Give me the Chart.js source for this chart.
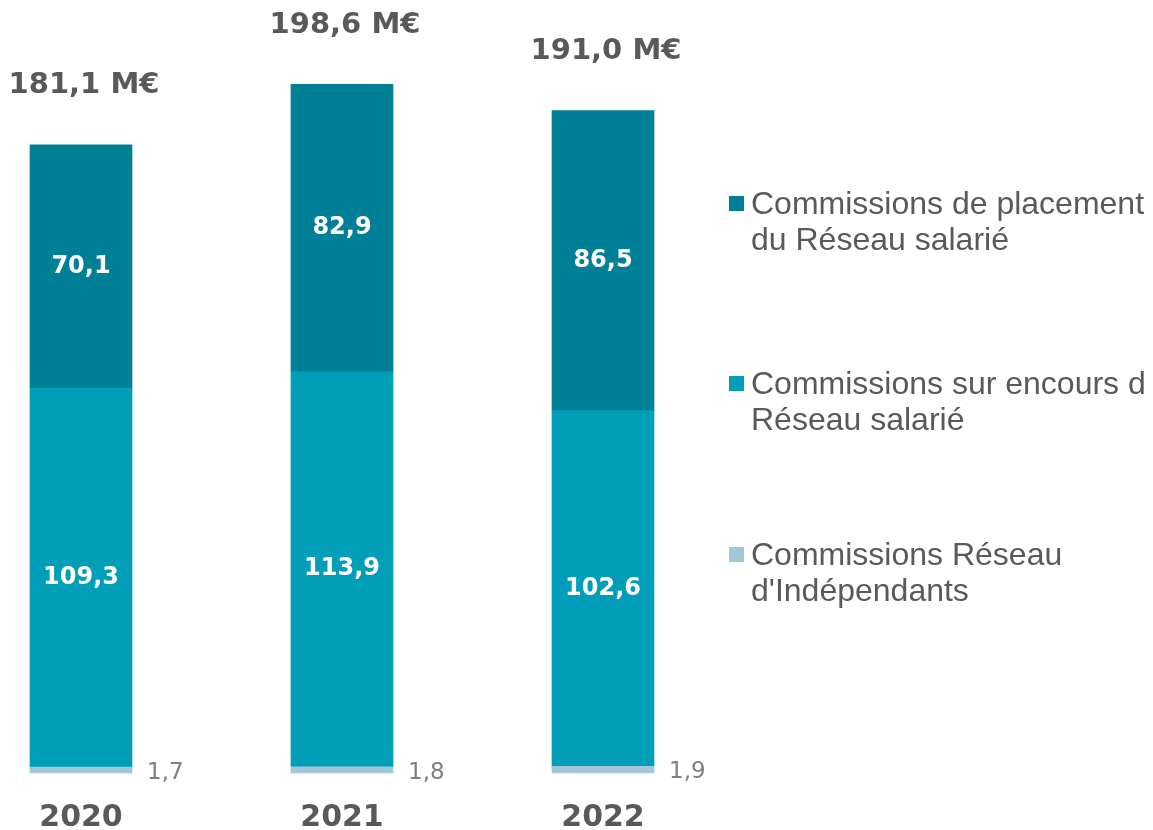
<!DOCTYPE html>
<html>
<head>
<meta charset="utf-8">
<script src="https://cdn.jsdelivr.net/npm/chart.js@4"></script>
<style>
html,body{margin:0;padding:0;background:#fff;}
#wrap{width:1153px;height:830px;position:relative;}
</style>
</head>
<body>
<div id="wrap"><canvas id="c" width="1153" height="830"></canvas></div>
<script>
const categories = ["2020", "2021", "2022"];
const independants = [1.7, 1.8, 1.9];
const encours = [109.3, 113.9, 102.6];
const placement = [70.1, 82.9, 86.5];
const totals = ["181,1 M€", "198,6 M€", "191,0 M€"];
const seriesNames = [
  ["Commissions Réseau", "d'Indépendants"],
  ["Commissions sur encours du", "Réseau salarié"],
  ["Commissions de placement", "du Réseau salarié"]
];
const colors = ["#A0C8D6", "#009EB8", "#008096"];

const fmt = v => v.toFixed(1).replace('.', ',');

const labelPlugin = {
  id: 'labels',
  afterDatasetsDraw(chart) {
    const ctx = chart.ctx;
    const xs = chart.scales.x, ys = chart.scales.y;
    ctx.save();
    chart.data.datasets.forEach((ds, di) => {
      const meta = chart.getDatasetMeta(di);
      meta.data.forEach((bar, i) => {
        const v = ds.data[i];
        if (di === 0) {
          ctx.font = '23px "DejaVu Sans"';
          ctx.fillStyle = '#7F7F7F';
          ctx.textAlign = 'left';
          ctx.textBaseline = 'middle';
          ctx.fillText(fmt(v), bar.x + bar.width / 2 + 15, bar.y + 6);
        } else {
          ctx.font = 'bold 24px "DejaVu Sans"';
          ctx.fillStyle = '#FFFFFF';
          ctx.textAlign = 'center';
          ctx.textBaseline = 'middle';
          ctx.fillText(fmt(v), bar.x, (bar.y + bar.base) / 2);
        }
      });
    });
    categories.forEach((cat, i) => {
      const x = xs.getPixelForValue(i);
      const sum = independants[i] + encours[i] + placement[i];
      const top = ys.getPixelForValue(sum);
      ctx.font = 'bold 29px "DejaVu Sans"';
      ctx.fillStyle = '#595959';
      ctx.textAlign = 'center';
      ctx.textBaseline = 'middle';
      ctx.fillText(totals[i], x + 3, top - 59);
      ctx.font = 'bold 30px "DejaVu Sans"';
      ctx.fillText(cat, x, ys.getPixelForValue(0) + 45);
    });
    ctx.save();
    ctx.beginPath();
    ctx.rect(700, 0, 446, 830);
    ctx.clip();
    const legendY = [205, 385, 556];
    [2, 1, 0].forEach((di, k) => {
      const y = legendY[k];
      ctx.fillStyle = colors[di];
      ctx.fillRect(729, y - 9, 15, 15);
      ctx.font = '32px "Liberation Sans"';
      ctx.fillStyle = '#595959';
      ctx.textAlign = 'left';
      ctx.textBaseline = 'middle';
      seriesNames[di].forEach((line, li) => {
        ctx.fillText(line, 751, y + li * 36);
      });
    });
    ctx.restore();
    ctx.restore();
  }
};

new Chart(document.getElementById('c'), {
  type: 'bar',
  data: {
    labels: categories,
    datasets: [
      { label: seriesNames[0].join(' '), data: independants, backgroundColor: colors[0], clip: false },
      { label: seriesNames[1].join(' '), data: encours, backgroundColor: colors[1], clip: false },
      { label: seriesNames[2].join(' '), data: placement, backgroundColor: colors[2], clip: false }
    ]
  },
  options: {
    responsive: false,
    animation: false,
    layout: { padding: { left: 81, right: 550, top: 10, bottom: 57 } },
    datasets: { bar: { barThickness: 102 } },
    plugins: { legend: { display: false }, tooltip: { enabled: false } },
    scales: {
      x: { stacked: true, display: false, offset: false },
      y: { stacked: true, display: false, min: 0, max: 220 }
    }
  },
  plugins: [labelPlugin]
});
</script>
</body>
</html>
